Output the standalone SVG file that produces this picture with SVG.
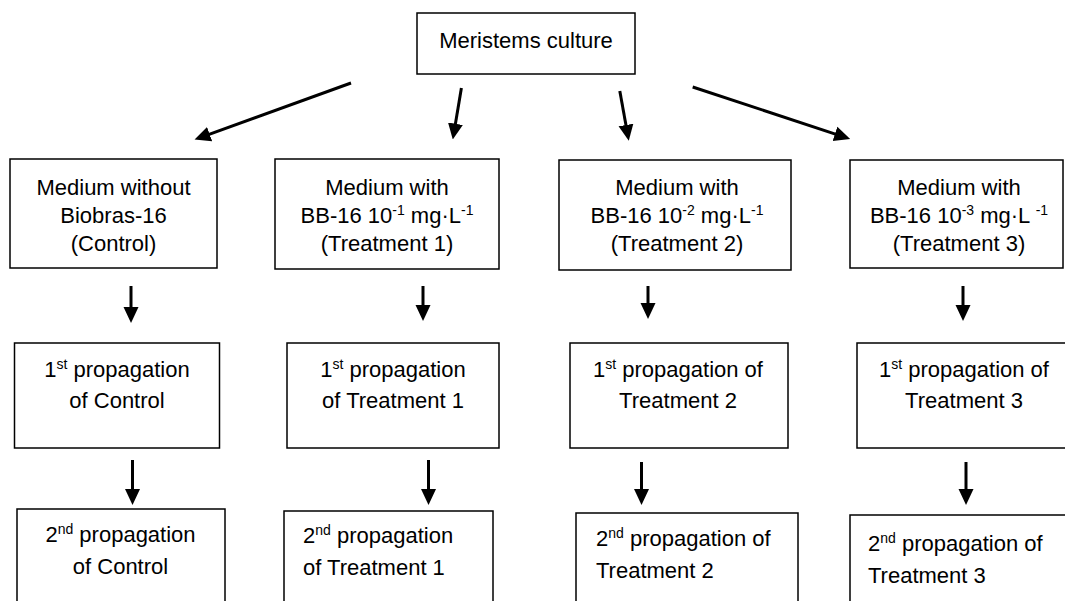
<svg xmlns="http://www.w3.org/2000/svg" width="1065" height="601" viewBox="0 0 1065 601">
<style>
.box{fill:#fff;stroke:#000;stroke-width:1.5}
.t{font-family:"Liberation Sans",Arial,sans-serif;font-size:22px;fill:#000}
.c{text-anchor:middle}
.a{stroke:#000;stroke-width:3;fill:none;marker-end:url(#ah)}
</style>
<defs>
<marker id="ah" markerUnits="userSpaceOnUse" markerWidth="16" markerHeight="16" refX="2" refY="7.5" orient="auto" viewBox="0 0 16 15">
<path d="M0,0 L16,7.5 L0,15 z" fill="#000"/>
</marker>
</defs>
<rect width="1065" height="601" fill="#fff"/>
<g id="connectors">
<line class="a" x1="351" y1="83" x2="207.7" y2="134.8"/>
<line class="a" x1="461.4" y1="88" x2="455.1" y2="125.7"/>
<line class="a" x1="619.8" y1="91" x2="626.3" y2="127"/>
<line class="a" x1="692.7" y1="87" x2="836.9" y2="134.6"/>
<line class="a" x1="131" y1="286" x2="131" y2="309"/>
<line class="a" x1="423" y1="286" x2="423" y2="307"/>
<line class="a" x1="648" y1="286" x2="648" y2="305"/>
<line class="a" x1="963" y1="286" x2="963" y2="307"/>
<line class="a" x1="132.5" y1="460" x2="132.5" y2="491"/>
<line class="a" x1="428.5" y1="460" x2="428.5" y2="491"/>
<line class="a" x1="641.5" y1="462" x2="641.5" y2="491"/>
<line class="a" x1="966" y1="462" x2="966" y2="491"/>
</g>
<g id="meristems">
<rect class="box" x="417" y="13" width="218" height="61"/>
<text class="t c" x="526" y="48">Meristems culture</text>
</g>
<g id="control">
<rect class="box" x="10" y="159" width="207" height="109"/>
<text class="t c" x="113.5" y="195">Medium without</text>
<text class="t c" x="113.5" y="223">Biobras-16</text>
<text class="t c" x="113.5" y="251">(Control)</text>
</g>
<g id="treatment1">
<rect class="box" x="275" y="159" width="224" height="110"/>
<text class="t c" x="387" y="195">Medium with</text>
<text class="t c" x="387" y="223">BB-16 10<tspan font-size="14" dy="-8">-1</tspan><tspan dy="8"> mg·L</tspan><tspan font-size="14" dy="-8">-1</tspan></text>
<text class="t c" x="387" y="251">(Treatment 1)</text>
</g>
<g id="treatment2">
<rect class="box" x="559" y="160" width="232" height="110"/>
<text class="t c" x="677" y="195">Medium with</text>
<text class="t c" x="677" y="223">BB-16 10<tspan font-size="14" dy="-8">-2</tspan><tspan dy="8"> mg·L</tspan><tspan font-size="14" dy="-8">-1</tspan></text>
<text class="t c" x="677" y="251">(Treatment 2)</text>
</g>
<g id="treatment3">
<rect class="box" x="850" y="160" width="213" height="108"/>
<text class="t c" x="959" y="195">Medium with</text>
<text class="t c" x="959" y="223">BB-16 10<tspan font-size="14" dy="-8">-3</tspan><tspan dy="8"> mg·L </tspan><tspan font-size="14" dy="-8">-1</tspan></text>
<text class="t c" x="959" y="251">(Treatment 3)</text>
</g>
<g id="prop1-control">
<rect class="box" x="14.5" y="343" width="205" height="105"/>
<text class="t c" x="117" y="377">1<tspan font-size="14" dy="-8">st</tspan><tspan dy="8"> propagation</tspan></text>
<text class="t c" x="117" y="408">of Control</text>
</g>
<g id="prop1-t1">
<rect class="box" x="287" y="343" width="212" height="105"/>
<text class="t c" x="393" y="377">1<tspan font-size="14" dy="-8">st</tspan><tspan dy="8"> propagation</tspan></text>
<text class="t c" x="393" y="408">of Treatment 1</text>
</g>
<g id="prop1-t2">
<rect class="box" x="570" y="343" width="218" height="105"/>
<text class="t c" x="678" y="377">1<tspan font-size="14" dy="-8">st</tspan><tspan dy="8"> propagation of</tspan></text>
<text class="t c" x="678" y="408">Treatment 2</text>
</g>
<g id="prop1-t3">
<rect class="box" x="857" y="343" width="220" height="105"/>
<text class="t c" x="964" y="377">1<tspan font-size="14" dy="-8">st</tspan><tspan dy="8"> propagation of</tspan></text>
<text class="t c" x="964" y="408">Treatment 3</text>
</g>
<g id="prop2-control">
<rect class="box" x="17" y="509" width="208" height="110"/>
<text class="t c" x="120.5" y="542">2<tspan font-size="14" dy="-8">nd</tspan><tspan dy="8"> propagation</tspan></text>
<text class="t c" x="120.5" y="574">of Control</text>
</g>
<g id="prop2-t1">
<rect class="box" x="284" y="511" width="209" height="110"/>
<text class="t" x="303" y="543">2<tspan font-size="14" dy="-8">nd</tspan><tspan dy="8"> propagation</tspan></text>
<text class="t" x="303" y="575">of Treatment 1</text>
</g>
<g id="prop2-t2">
<rect class="box" x="576" y="513" width="222" height="110"/>
<text class="t" x="596" y="546">2<tspan font-size="14" dy="-8">nd</tspan><tspan dy="8"> propagation of</tspan></text>
<text class="t" x="596" y="578">Treatment 2</text>
</g>
<g id="prop2-t3">
<rect class="box" x="850" y="515" width="230" height="110"/>
<text class="t" x="868" y="551">2<tspan font-size="14" dy="-8">nd</tspan><tspan dy="8"> propagation of</tspan></text>
<text class="t" x="868" y="583">Treatment 3</text>
</g>
</svg>
